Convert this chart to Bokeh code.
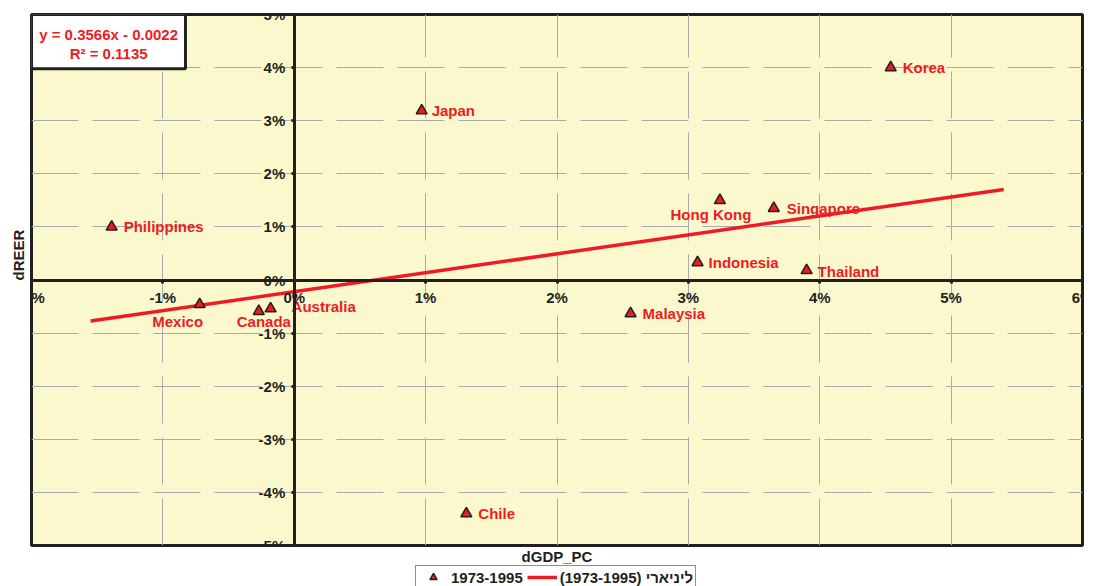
from bokeh.plotting import figure
from bokeh.layouts import column
from bokeh.models import (LinearAxis, NumeralTickFormatter, FixedTicker, Legend, LegendItem,
                          Title, ColumnDataSource, Range1d)
from bokeh.core.properties import value
from bokeh.embed import file_html
from bokeh.resources import INLINE

# ---- data ----
countries = ["Korea", "Japan", "Philippines", "Hong Kong", "Singapore", "Indonesia",
             "Thailand", "Malaysia", "Mexico", "Canada", "Australia", "Chile"]
dgdp_pc = [0.0454, 0.0097, -0.0139, 0.0324, 0.0365, 0.0307, 0.0390, 0.0256,
           -0.0072, -0.0027, -0.0018, 0.0131]
dreer = [0.0400, 0.0319, 0.0100, 0.0150, 0.0135, 0.0033, 0.0018, -0.0063,
         -0.0046, -0.0059, -0.0054, -0.0440]
slope = 0.3566
intercept = -0.0022
trend_x = [-0.0155, 0.054]
x_ticks = [-0.02, -0.01, 0.0, 0.01, 0.02, 0.03, 0.04, 0.05, 0.06]
y_ticks = [-0.05, -0.04, -0.03, -0.02, -0.01, 0.0, 0.01, 0.02, 0.03, 0.04, 0.05]
equation_lines = ["y = 0.3566x - 0.0022", "R\u00b2 = 0.1135"]
series_name = "1973-1995"
trend_name = "ליניארי (1973-1995)"

# ---- label placement (style) ----
label_style = {
    "Korea": (12, 0, "left"), "Japan": (10, 0, "left"), "Philippines": (12, 0, "left"),
    "Hong Kong": (-9, 14, "center"), "Singapore": (13, 0, "left"),
    "Indonesia": (11, 0, "left"), "Thailand": (11, 1, "left"), "Malaysia": (12, 0, "left"),
    "Mexico": (-22, 17, "center"), "Canada": (-22, 10, "left"),
    "Australia": (21, -2, "left"), "Chile": (12, 0, "left"),
}

RED = "#ed1c24"
DARK = "#231f20"
FONT = "Liberation Sans"
FS = "15px"

trend_y = [slope * x + intercept for x in trend_x]

p = figure(width=1096, height=564, output_backend="svg", toolbar_location=None,
           x_range=Range1d(-0.02, 0.06), y_range=Range1d(-0.05, 0.05),
           x_axis_location=None, y_axis_location=None,
           min_border_left=31, min_border_right=14, min_border_top=14, min_border_bottom=19)
p.background_fill_color = "#fcf8cd"
p.border_fill_color = "white"
p.outline_line_color = DARK
p.outline_line_width = 3

# grid
p.xgrid.ticker = FixedTicker(ticks=x_ticks)
p.ygrid.ticker = FixedTicker(ticks=y_ticks)
for g in (p.xgrid, p.ygrid):
    g.grid_line_color = "#a9a9b0"
    g.grid_line_width = 1
    g.grid_line_dash = "47 14"

# axes through origin
xa = LinearAxis(fixed_location=0, ticker=FixedTicker(ticks=x_ticks),
                formatter=NumeralTickFormatter(format="0%"))
ya = LinearAxis(fixed_location=0, ticker=FixedTicker(ticks=y_ticks),
                formatter=NumeralTickFormatter(format="0%"))
for a in (xa, ya):
    a.axis_line_color = DARK
    a.axis_line_width = 3
    a.major_tick_line_color = DARK
    a.major_tick_line_width = 3
    a.major_tick_out = 3
    a.major_tick_in = 0
    a.minor_tick_line_color = None
    a.major_label_text_font = FONT
    a.major_label_text_font_style = "bold"
    a.major_label_text_font_size = FS
    a.major_label_text_color = DARK
xa.major_label_standoff = 6
ya.major_label_standoff = 6
p.add_layout(xa, "below")
p.add_layout(ya, "left")

# trend line
tl = p.line(trend_x, trend_y, line_color=RED, line_width=3.5)

# points
src = ColumnDataSource(dict(
    x=dgdp_pc, y=dreer, name=countries,
    xo=[label_style[c][0] for c in countries],
    yo=[label_style[c][1] for c in countries],
    al=[label_style[c][2] for c in countries],
))
sc = p.scatter("x", "y", source=src, marker="triangle", size=11,
               fill_color=RED, line_color=DARK, line_width=1.5)
p.text("x", "y", text="name", source=src, x_offset="xo", y_offset="yo", text_align="al",
       text_baseline="middle", text_color=RED, text_font=value(FONT),
       text_font_style="bold", text_font_size=FS)

# equation box
p.quad(left=[-0.02], right=[-0.00828], top=[0.05], bottom=[0.0398],
       fill_color="white", line_color=DARK, line_width=3)
p.text(x=[-0.01413, -0.01413], y=[0.0462, 0.0427], text=equation_lines,
       text_align="center", text_baseline="middle", text_color=RED,
       text_font=value(FONT), text_font_style="bold", text_font_size=FS)

# axis titles
xt = Title(text="dGDP_PC", align="center", text_font=FONT, text_font_style="bold",
           text_font_size=FS, text_color=DARK, standoff=0, offset=0)
p.add_layout(xt, "below")
yt = Title(text="dREER", align="left", text_font=FONT, text_font_style="bold",
           text_font_size=FS, text_color=DARK, standoff=9, offset=265)
p.add_layout(yt, "left")

# legend strip (proxy glyphs sit outside the strip's visible range)
pl = figure(width=1096, height=22, output_backend="svg", toolbar_location=None,
            x_range=Range1d(0, 1), y_range=Range1d(0, 1),
            x_axis_location=None, y_axis_location=None,
            min_border_left=0, min_border_right=0, min_border_top=0, min_border_bottom=0)
pl.outline_line_color = None
pl.grid.visible = False
lsc = pl.scatter(x=[-5], y=[-5], marker="triangle", size=11,
                 fill_color=RED, line_color=DARK, line_width=1.5)
ltl = pl.line(x=[-5, -4], y=[-5, -5], line_color=RED, line_width=3.5)
legend = Legend(items=[LegendItem(label=series_name, renderers=[lsc]),
                       LegendItem(label=trend_name, renderers=[ltl])],
                orientation="horizontal", location=(384, -3),
                label_text_font=FONT, label_text_font_style="bold",
                label_text_font_size=FS, label_text_color=DARK,
                border_line_color=DARK, border_line_width=1,
                background_fill_color="white", background_fill_alpha=1,
                padding=2, margin=0, spacing=4, glyph_width=30, glyph_height=18,
                label_height=16, label_standoff=3)
pl.add_layout(legend, "center")

layout = column(p, pl, spacing=0)
open("out.html", "w").write(file_html(layout, INLINE))
